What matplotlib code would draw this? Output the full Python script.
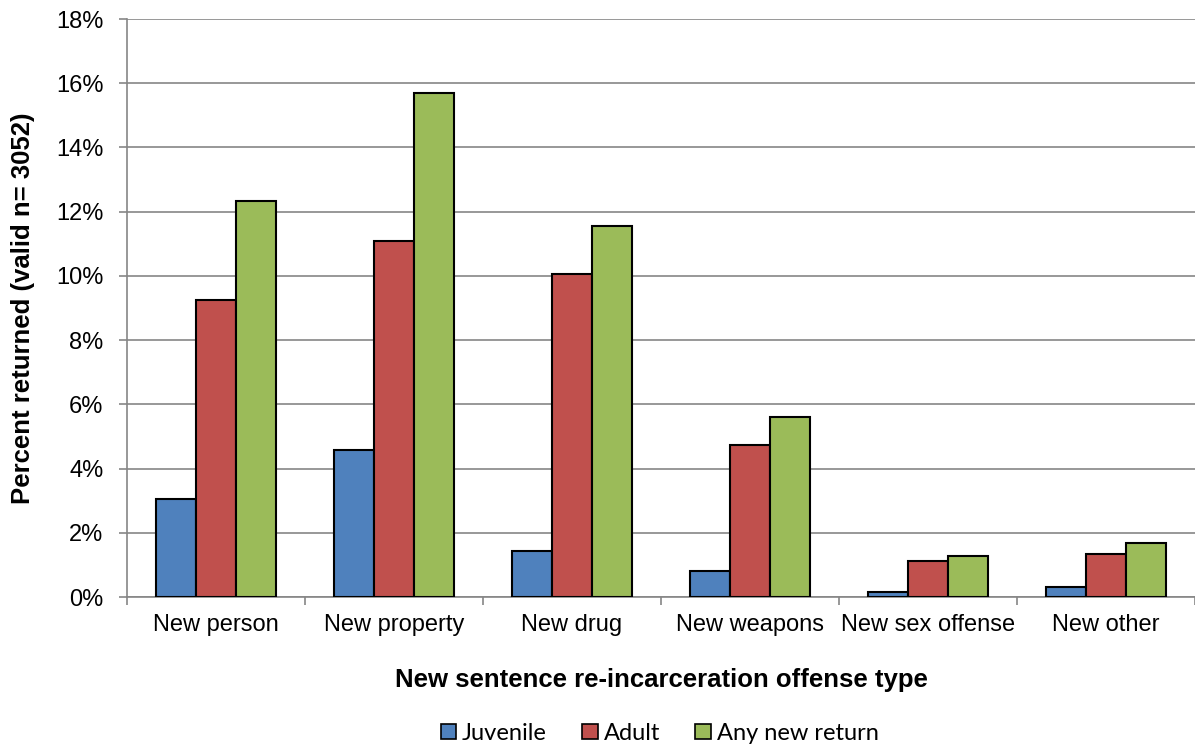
import matplotlib.pyplot as plt
import numpy as np
from matplotlib.patches import Patch
from matplotlib.ticker import FuncFormatter, MultipleLocator

categories = ["New person", "New property", "New drug", "New weapons",
              "New sex offense", "New other"]
juvenile = [3.05, 4.57, 1.44, 0.82, 0.17, 0.32]
adult = [9.25, 11.09, 10.07, 4.74, 1.11, 1.34]
any_return = [12.34, 15.69, 11.56, 5.60, 1.28, 1.67]
series_names = ["Juvenile", "Adult", "Any new return"]
colors = ["#4F81BD", "#C0504D", "#9BBB59"]

plt.rcParams['font.family'] = ['Liberation Sans', 'DejaVu Sans']

fig = plt.figure(figsize=(11.95, 7.46), dpi=100)
ax = fig.add_axes([0.1063, 0.1997, 0.8937, 0.7748])

x = np.arange(len(categories))
w = 0.224
for i, (vals, c) in enumerate(zip([juvenile, adult, any_return], colors)):
    ax.bar(x + (i - 1) * w, vals, width=w, color=c, edgecolor='black',
           linewidth=1.5, zorder=3)

ax.set_xlim(-0.5, len(categories) - 0.5)
ax.set_ylim(0, 18)
ax.yaxis.set_major_locator(MultipleLocator(2))
ax.yaxis.set_major_formatter(FuncFormatter(lambda v, p: f"{v:.0f}%"))
ax.grid(axis='y', color='#868686', linewidth=1.2, zorder=0)

ax.set_xticks(x)
ax.set_xticklabels(categories)
ax.set_xticks(np.arange(-0.5, len(categories)), minor=True)
ax.tick_params(axis='x', which='major', length=0, pad=12, labelsize=17)
ax.tick_params(axis='x', which='minor', length=6, color='#868686', width=1.2)
ax.tick_params(axis='y', length=6, color='#868686', width=1.2, pad=11,
               labelsize=17)

for s in ['top', 'right']:
    ax.spines[s].set_visible(False)
for s in ['left', 'bottom']:
    ax.spines[s].set_color('#868686')
    ax.spines[s].set_linewidth(1.2)

ax.set_ylabel("Percent returned (valid n= 3052)", fontsize=18.5,
              fontweight='bold')
ax.yaxis.set_label_coords(-0.086, 0.5)
ax.set_xlabel("New sentence re-incarceration offense type", fontsize=18.5,
              fontweight='bold')
ax.xaxis.set_label_coords(0.5, -0.123)

handles = [Patch(facecolor=c, edgecolor='black', linewidth=1.2) for c in colors]
fig.legend(handles, series_names, loc='center', bbox_to_anchor=(0.552, 0.017),
           ncol=3, frameon=False, handlelength=0.65, handleheight=0.65,
           handletextpad=0.25, columnspacing=1.5,
           prop={'family': 'Lato', 'size': 17})

fig.savefig("out.png", dpi=100)
